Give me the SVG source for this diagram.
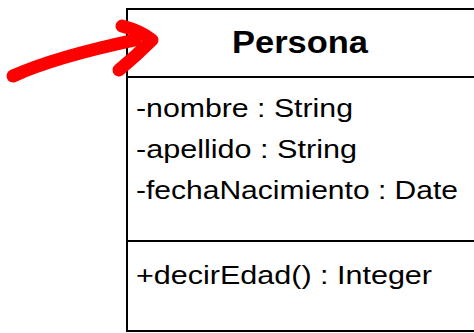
<svg xmlns="http://www.w3.org/2000/svg" width="474" height="333" viewBox="0 0 474 333">
  <style>
    .box { fill: #ffffff; stroke: #000000; stroke-width: 2; }
    .div { stroke: #000000; stroke-width: 2; }
    .title { font-family: "Liberation Sans", Arial, sans-serif; font-weight: bold; font-size: 31px; fill: #000000; }
    .member { font-family: "Liberation Sans", Arial, sans-serif; font-size: 26px; fill: #000000; }
    .mark { fill: none; stroke: #ff0000; stroke-width: 13; stroke-linecap: round; stroke-linejoin: round; }
  </style>
  <rect width="474" height="333" fill="#ffffff"/>

  <!-- UML class box -->
  <g id="persona">
    <rect class="box" x="127" y="9" width="370" height="322"/>
    <line class="div" x1="127" y1="77" x2="474" y2="77"/>
    <line class="div" x1="127" y1="241" x2="474" y2="241"/>
    <text class="title" x="232" y="53" textLength="136" lengthAdjust="spacingAndGlyphs">Persona</text>
    <text class="member" x="136" y="117" textLength="217" lengthAdjust="spacingAndGlyphs">-nombre : String</text>
    <text class="member" x="136" y="158" textLength="221" lengthAdjust="spacingAndGlyphs">-apellido : String</text>
    <text class="member" x="136" y="199" textLength="322" lengthAdjust="spacingAndGlyphs">-fechaNacimiento : Date</text>
    <text class="member" x="136" y="284" textLength="296" lengthAdjust="spacingAndGlyphs">+decirEdad() : Integer</text>
  </g>

  <!-- hand-drawn red arrow -->
  <g id="connectors">
    <path class="mark" d="M13,76 Q55,57 135,40"/>
    <path class="mark" d="M122,26 Q141,31 152,40 Q136,56 119,70"/>
  </g>
</svg>
